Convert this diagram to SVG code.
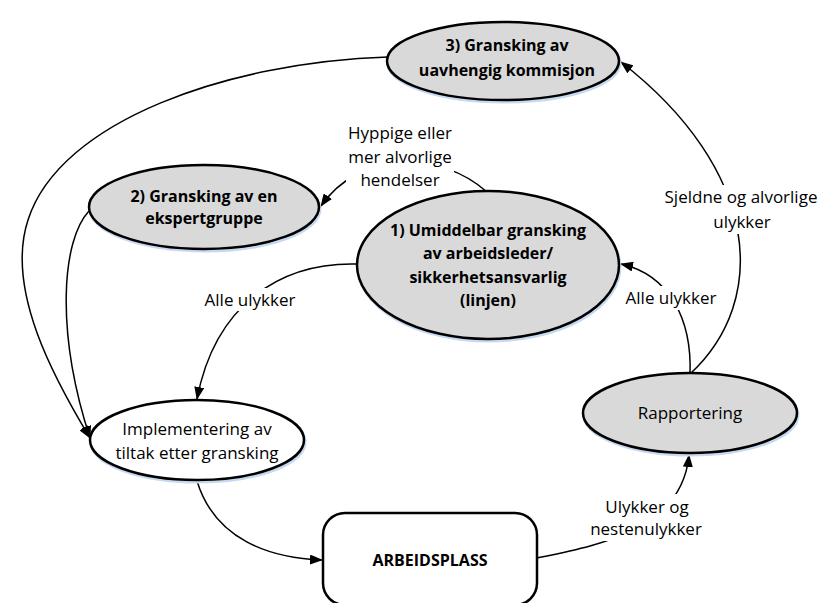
<svg xmlns="http://www.w3.org/2000/svg" width="820" height="603" viewBox="0 0 820 603">
<style>
.node{fill:#d9d9d9;stroke:#000;stroke-width:2.5}
.wnode{fill:#fff;stroke:#000;stroke-width:2.5}
.shadow{fill:none;stroke:#c6d9f1;stroke-width:3}
.conn{fill:none;stroke:#000;stroke-width:1.5}
.t{font-family:"Open Sans","Liberation Sans",sans-serif;font-size:17px;fill:#000;text-anchor:middle}
.b{font-weight:bold;font-size:16px}
.bg{fill:#fff}
</style>
<defs>
<marker id="arr" markerWidth="13" markerHeight="10" refX="12" refY="5" orient="auto" markerUnits="userSpaceOnUse"><path d="M0,0 L13,5 L0,10 z" fill="#000"/></marker>
</defs>
<g id="connectors">
<path class="conn" d="M690,374 C770,300 760,170 621,62" marker-end="url(#arr)"/>
<path class="conn" d="M690,374 C692,320 670,275 621,264" marker-end="url(#arr)"/>
<path class="conn" d="M487,192 C440,150 360,150 321,206" marker-end="url(#arr)"/>
<path class="conn" d="M357,264 C280,262 215,305 197,399" marker-end="url(#arr)"/>
<path class="conn" d="M388,57 C230,62 60,120 28,220 C5,290 55,380 90,438" marker-end="url(#arr)"/>
<path class="conn" d="M89,211 C62,240 55,330 90,438" marker-end="url(#arr)"/>
<path class="conn" d="M197,481 C215,540 270,558 322,560" marker-end="url(#arr)"/>
<path class="conn" d="M537,558 C600,545 682,530 689,455" marker-end="url(#arr)"/>
<rect class="bg" x="346" y="122" width="108" height="68"/>
<text class="t" x="400" y="139">Hyppige eller</text>
<text class="t" x="400" y="163">mer alvorlige</text>
<text class="t" x="400" y="186">hendelser</text>
<rect class="bg" x="203" y="288" width="94" height="23"/>
<text class="t" x="250" y="306">Alle ulykker</text>
<rect class="bg" x="624" y="286" width="95" height="24"/>
<text class="t" x="671" y="304">Alle ulykker</text>
<rect class="bg" x="663" y="185" width="156" height="23"/>
<rect class="bg" x="712" y="208" width="61" height="26"/>
<text class="t" x="741" y="203">Sjeldne og alvorlige</text>
<text class="t" x="742" y="228">ulykker</text>
<rect class="bg" x="590" y="494" width="112" height="47"/>
<text class="t" x="647" y="513">Ulykker og</text>
<text class="t" x="646" y="535">nestenulykker</text>
</g>
<g id="node3">
<ellipse class="shadow" cx="504" cy="63" rx="116" ry="39"/>
<ellipse class="node" cx="503" cy="61" rx="116" ry="39"/>
<text class="t b" x="507" y="51">3) Gransking av</text>
<text class="t b" x="507" y="76">uavhengig kommisjon</text>
</g>
<g id="node2">
<ellipse class="shadow" cx="205" cy="209" rx="115" ry="42"/>
<ellipse class="node" cx="204" cy="207" rx="115" ry="42"/>
<text class="t b" x="204" y="202">2) Gransking av en</text>
<text class="t b" x="204" y="224">ekspertgruppe</text>
</g>
<g id="node1">
<ellipse class="shadow" cx="489" cy="267" rx="131" ry="74"/>
<ellipse class="node" cx="488" cy="265" rx="131" ry="74"/>
<text class="t b" x="488" y="236">1) Umiddelbar gransking</text>
<text class="t b" x="488" y="259">av arbeidsleder/</text>
<text class="t b" x="488" y="283">sikkerhetsansvarlig</text>
<text class="t b" x="488" y="306">(linjen)</text>
</g>
<g id="node-impl">
<ellipse class="shadow" cx="198" cy="442" rx="107" ry="40"/>
<ellipse class="wnode" cx="197" cy="440" rx="107" ry="40"/>
<text class="t" x="197" y="435">Implementering av</text>
<text class="t" x="197" y="459">tiltak etter gransking</text>
</g>
<g id="node-rapport">
<ellipse class="shadow" cx="691" cy="415" rx="107" ry="40"/>
<ellipse class="node" cx="690" cy="413" rx="107" ry="40"/>
<text class="t" x="690" y="419">Rapportering</text>
</g>
<g id="node-arbeid">
<rect class="wnode" x="323" y="513" width="214" height="92" rx="22"/>
<text class="t b" x="430" y="566">ARBEIDSPLASS</text>
</g>
</svg>
